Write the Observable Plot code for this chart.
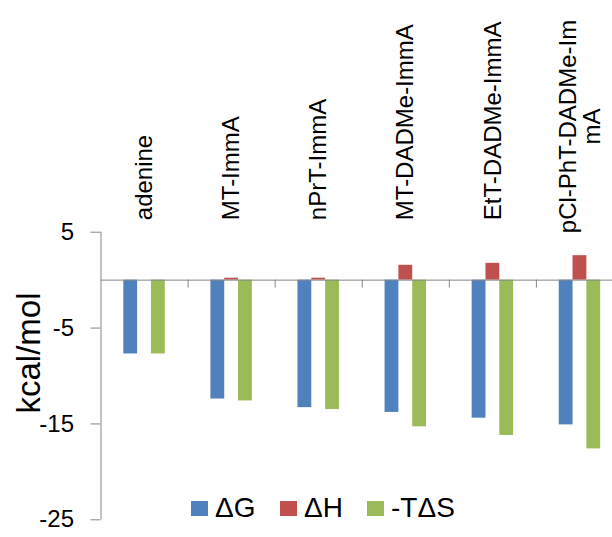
<!DOCTYPE html>
<html><head><meta charset="utf-8">
<script src="https://cdn.jsdelivr.net/npm/d3@7"></script>
<script src="https://cdn.jsdelivr.net/npm/@observablehq/plot@0.6"></script>
<style>
html,body{margin:0;padding:0;background:#fff;}
#wrap{position:relative;width:612px;height:537px;overflow:hidden;font-family:"Liberation Sans",Arial,sans-serif;background:#fff;}
#wrap svg{max-width:none;position:absolute;left:0;top:0;}
#ylabel{position:absolute;left:28px;top:353px;transform:translate(-50%,-50%) rotate(-90deg);font-size:33px;line-height:33px;white-space:nowrap;color:#000;}
.item{position:absolute;top:496px;display:flex;align-items:center;height:24px;font-size:28px;color:#000;white-space:nowrap;}
.swatch{width:17px;height:15px;margin-right:7px;}
</style></head>
<body>
<div id="wrap"><div id="legend"></div><div id="ylabel">kcal/mol</div></div>
<script>
const categories = ["adenine", "MT-ImmA", "nPrT-ImmA", "MT-DADMe-ImmA", "EtT-DADMe-ImmA", "pCl-PhT-DADMe-ImmA"];
const categoryLabels = ["adenine", "MT-ImmA", "nPrT-ImmA", "MT-DADMe-ImmA", "EtT-DADMe-ImmA", "pCl-PhT-DADMe-Im\nmA"];
const series = ["ΔG", "ΔH", "-TΔS"];
const dG = [-7.7, -12.4, -13.3, -13.8, -14.4, -15.1];
const dH = [0, 0.2, 0.2, 1.55, 1.75, 2.55];
const minusTdS = [-7.7, -12.6, -13.5, -15.3, -16.2, -17.6];
const yTicks = [5, -5, -15, -25];
const colors = ["#4F81BD", "#C0504D", "#9BBB59"];
const legendLeft = [191, 280, 367];

const values = [dG, dH, minusTdS];
const rows = categories.flatMap((cat, ci) =>
  series.map((s, si) => ({cat, ci, series: s, si, value: values[si][ci]})));
const labelRows = categories.map((cat, ci) => ({cat, ci, text: categoryLabels[ci]}));

const gap = 3.3;
const bw = 1 / (series.length + gap);
const start = gap * bw / 2;
const FONT = '"Liberation Sans", Arial, sans-serif';
const labelSize = 24;

const ctx = document.createElement("canvas").getContext("2d");
ctx.font = `${labelSize}px ${FONT}`;

const singleRows = labelRows.filter(d => !d.text.includes("\n"));
const multiMarks = labelRows.filter(d => d.text.includes("\n")).map(d => {
  const w = d3.max(d.text.split("\n"), l => ctx.measureText(l).width);
  return Plot.text([d], {
    x: r => r.ci + 0.5, text: "text", frameAnchor: "top", dy: 1 - w / 2,
    rotate: -90, textAnchor: "middle", lineAnchor: "middle", fontSize: labelSize, fill: "black"
  });
});

const chart = Plot.plot({
  width: 623,
  height: 537,
  marginLeft: 100.5,
  marginRight: 0,
  marginTop: 231.7,
  marginBottom: 17.7,
  x: {domain: [0, categories.length], axis: null},
  y: {domain: [-25, 5], axis: null},
  color: {domain: series, range: colors},
  style: {fontFamily: FONT, fontSize: "24px", background: "white", maxWidth: "none", overflow: "visible"},
  marks: [
    Plot.rect(rows, {
      x1: d => d.ci + start + d.si * bw,
      x2: d => d.ci + start + (d.si + 1) * bw,
      y1: () => 0,
      y2: "value",
      fill: "series"
    }),
    Plot.ruleY([0], {stroke: "#868686"}),
    Plot.ruleX(d3.range(1, categories.length + 1), {y1: () => 0, y2: () => 0, insetBottom: -8, stroke: "#868686"}),
    Plot.ruleX([0], {stroke: "#868686"}),
    Plot.axisY({ticks: yTicks, tickSize: 10, tickPadding: 17, fontSize: 24, stroke: "#868686", fill: "black", label: null, tickFormat: d => String(d)}),
    Plot.text(singleRows, {
      x: d => d.ci + 0.5, text: "text", frameAnchor: "top", dy: -12,
      rotate: -90, textAnchor: "start", lineAnchor: "middle", fontSize: labelSize, fill: "black"
    }),
    ...multiMarks
  ]
});
document.getElementById("wrap").prepend(chart);

const legend = document.getElementById("legend");
series.forEach((s, i) => {
  const item = document.createElement("div");
  item.className = "item";
  item.style.left = legendLeft[i] + "px";
  const sw = document.createElement("div");
  sw.className = "swatch";
  sw.style.background = colors[i];
  const t = document.createElement("span");
  t.textContent = s;
  item.append(sw, t);
  legend.append(item);
});
</script>
</body></html>
